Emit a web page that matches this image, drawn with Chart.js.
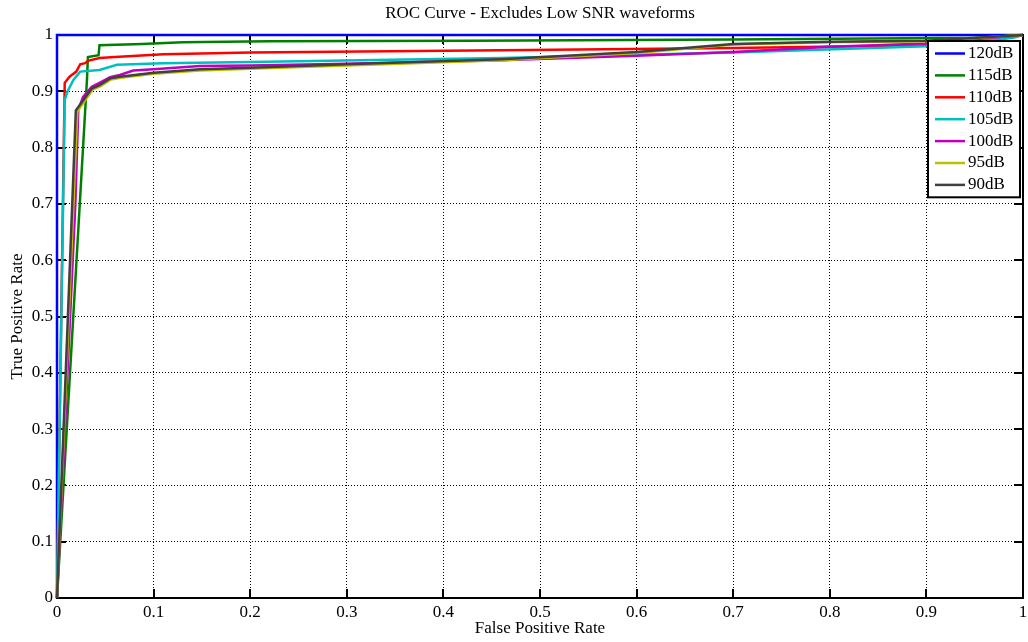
<!DOCTYPE html>
<html>
<head>
<meta charset="utf-8">
<title>ROC Curve</title>
<script src="https://cdn.jsdelivr.net/npm/chart.js@4"></script>
<style>
  body { margin: 0; background: #fff; }
  canvas { display: block; }
</style>
</head>
<body>
<canvas id="rocChart" width="1028" height="642"></canvas>
<script>
const snrLevels = ['120dB', '115dB', '110dB', '105dB', '100dB', '95dB', '90dB'];
const lineColors = ['#0000ff', '#008000', '#ff0000', '#00bfbf', '#bf00bf', '#bfbf00', '#404040'];

// false positive rate / true positive rate per SNR level
const fpr120 = [0, 0, 1];
const tpr120 = [0, 1, 1];

const fpr115 = [0, 0.031, 0.032, 0.043, 0.044, 0.088, 0.13, 0.22, 0.43, 0.7, 0.95, 1];
const tpr115 = [0, 0.92, 0.961, 0.964, 0.982, 0.984, 0.987, 0.989, 0.990, 0.992, 0.995, 1];

const fpr110 = [0, 0.008, 0.013, 0.02, 0.024, 0.029, 0.032, 0.044, 0.06, 0.11, 0.2, 0.46, 0.7, 0.9, 0.97, 1];
const tpr110 = [0, 0.915, 0.926, 0.935, 0.948, 0.950, 0.954, 0.959, 0.961, 0.966, 0.969, 0.973, 0.977, 0.982, 0.99, 1];

const fpr105 = [0, 0.008, 0.011, 0.017, 0.024, 0.044, 0.062, 0.11, 0.2, 0.46, 0.7, 0.9, 0.99, 1];
const tpr105 = [0, 0.885, 0.9, 0.92, 0.935, 0.938, 0.947, 0.95, 0.952, 0.959, 0.969, 0.98, 0.995, 1];

const fpr100 = [0, 0.019, 0.022, 0.027, 0.036, 0.044, 0.055, 0.065, 0.079, 0.1, 0.148, 0.2, 0.3, 0.46, 0.6, 0.7, 0.8, 0.9, 1];
const tpr100 = [0, 0.7, 0.867, 0.89, 0.908, 0.915, 0.925, 0.929, 0.937, 0.939, 0.945, 0.946, 0.949, 0.955, 0.963, 0.97, 0.979, 0.985, 1];

const fpr95 = [0, 0.021, 0.037, 0.045, 0.056, 0.066, 0.1, 0.148, 0.2, 0.3, 0.46, 0.6, 0.7, 0.8, 0.9, 1];
const tpr95 = [0, 0.864, 0.903, 0.909, 0.921, 0.924, 0.931, 0.937, 0.940, 0.946, 0.955, 0.968, 0.983, 0.987, 0.989, 1];

const fpr90 = [0, 0.0195, 0.036, 0.044, 0.055, 0.065, 0.1, 0.148, 0.2, 0.3, 0.46, 0.6, 0.7, 0.8, 0.9, 1];
const tpr90 = [0, 0.866, 0.905, 0.911, 0.923, 0.926, 0.933, 0.939, 0.942, 0.948, 0.957, 0.970, 0.984, 0.988, 0.990, 1];

const fprSeries = [fpr120, fpr115, fpr110, fpr105, fpr100, fpr95, fpr90];
const tprSeries = [tpr120, tpr115, tpr110, tpr105, tpr100, tpr95, tpr90];

const serif = '"Liberation Serif", "Times New Roman", serif';
const fontSize = 17;

const datasets = snrLevels.map((label, i) => ({
  label: label,
  data: fprSeries[i].map((x, j) => ({ x: x, y: tprSeries[i][j] })),
  borderColor: lineColors[i],
  backgroundColor: lineColors[i],
  borderWidth: 2.5,
  pointRadius: 0,
  tension: 0,
  clip: false,
  order: snrLevels.length - i
}));

// matlab style box: thick frame with inward ticks on all four sides
const frameTicks = {
  id: 'frameTicks',
  beforeDatasetsDraw(chart) {
    const { ctx, chartArea: a, scales } = chart;
    const len = 9;
    ctx.save();
    ctx.strokeStyle = '#000';
    ctx.lineWidth = 2;
    ctx.strokeRect(a.left, a.top, a.right - a.left, a.bottom - a.top);
    ctx.beginPath();
    for (let v = 1; v < 10; v++) {
      const px = Math.round(scales.x.getPixelForValue(v / 10));
      ctx.moveTo(px, a.bottom); ctx.lineTo(px, a.bottom - len);
      ctx.moveTo(px, a.top); ctx.lineTo(px, a.top + len);
      const py = Math.round(scales.y.getPixelForValue(v / 10));
      ctx.moveTo(a.left, py); ctx.lineTo(a.left + len, py);
      ctx.moveTo(a.right, py); ctx.lineTo(a.right - len, py);
    }
    ctx.stroke();
    ctx.restore();
  }
};

const topTitle = {
  id: 'topTitle',
  afterDraw(chart) {
    const { ctx, chartArea: a } = chart;
    ctx.save();
    ctx.fillStyle = '#000';
    ctx.font = fontSize + 'px ' + serif;
    ctx.textAlign = 'center';
    ctx.textBaseline = 'middle';
    ctx.fillText('ROC Curve - Excludes Low SNR waveforms', (a.left + a.right) / 2, 14);
    ctx.restore();
  }
};

const boxLegend = {
  id: 'boxLegend',
  afterDraw(chart) {
    const { ctx, chartArea: a } = chart;
    const w = 92, rowH = 21.9;
    const x0 = a.right - w - 3, y0 = a.top + 6;
    const h = rowH * snrLevels.length + 3;
    ctx.save();
    ctx.fillStyle = '#fff';
    ctx.fillRect(x0, y0, w, h);
    ctx.strokeStyle = '#000';
    ctx.lineWidth = 2;
    ctx.strokeRect(x0, y0, w, h);
    ctx.font = fontSize + 'px ' + serif;
    ctx.textBaseline = 'middle';
    ctx.textAlign = 'left';
    snrLevels.forEach((label, i) => {
      const y = y0 + 12.5 + i * rowH;
      ctx.strokeStyle = lineColors[i];
      ctx.lineWidth = 2.5;
      ctx.beginPath();
      ctx.moveTo(x0 + 7, y);
      ctx.lineTo(x0 + 37, y);
      ctx.stroke();
      ctx.fillStyle = '#000';
      ctx.fillText(label, x0 + 40, y);
    });
    ctx.restore();
  }
};

const gridColor = ctx => (ctx.tick && (ctx.tick.value === 0 || ctx.tick.value === 1)) ? 'rgba(0,0,0,0)' : '#000';
const tickText = v => String(+Number(v).toFixed(1));

new Chart(document.getElementById('rocChart'), {
  type: 'line',
  data: { datasets: datasets },
  options: {
    responsive: false,
    animation: false,
    events: [],
    layout: { padding: { top: 35, right: 5, left: 0, bottom: 0 } },
    scales: {
      x: {
        type: 'linear',
        min: 0,
        max: 1,
        ticks: { stepSize: 0.1, callback: tickText, color: '#000', padding: 4, maxRotation: 0, autoSkip: false, font: { family: serif, size: fontSize } },
        grid: { color: gridColor, lineWidth: 1, drawTicks: false },
        border: { display: false, dash: [1, 2] },
        title: { display: true, text: 'False Positive Rate', color: '#000', padding: { top: 0, bottom: 3 }, font: { family: serif, size: fontSize } },
        afterFit: s => { s.height = 44; s.paddingLeft = 0; s.paddingRight = 0; }
      },
      y: {
        min: 0,
        max: 1,
        ticks: { stepSize: 0.1, callback: tickText, color: '#000', padding: 4, font: { family: serif, size: fontSize } },
        grid: { color: gridColor, lineWidth: 1, drawTicks: false },
        border: { display: false, dash: [1, 2] },
        title: { display: true, text: 'True Positive Rate', color: '#000', padding: { top: 7, bottom: 0 }, font: { family: serif, size: fontSize } },
        afterFit: s => { s.width = 57; s.paddingTop = 0; s.paddingBottom = 0; }
      }
    },
    plugins: {
      legend: { display: false },
      tooltip: { enabled: false }
    }
  },
  plugins: [frameTicks, topTitle, boxLegend]
});
</script>
</body>
</html>
